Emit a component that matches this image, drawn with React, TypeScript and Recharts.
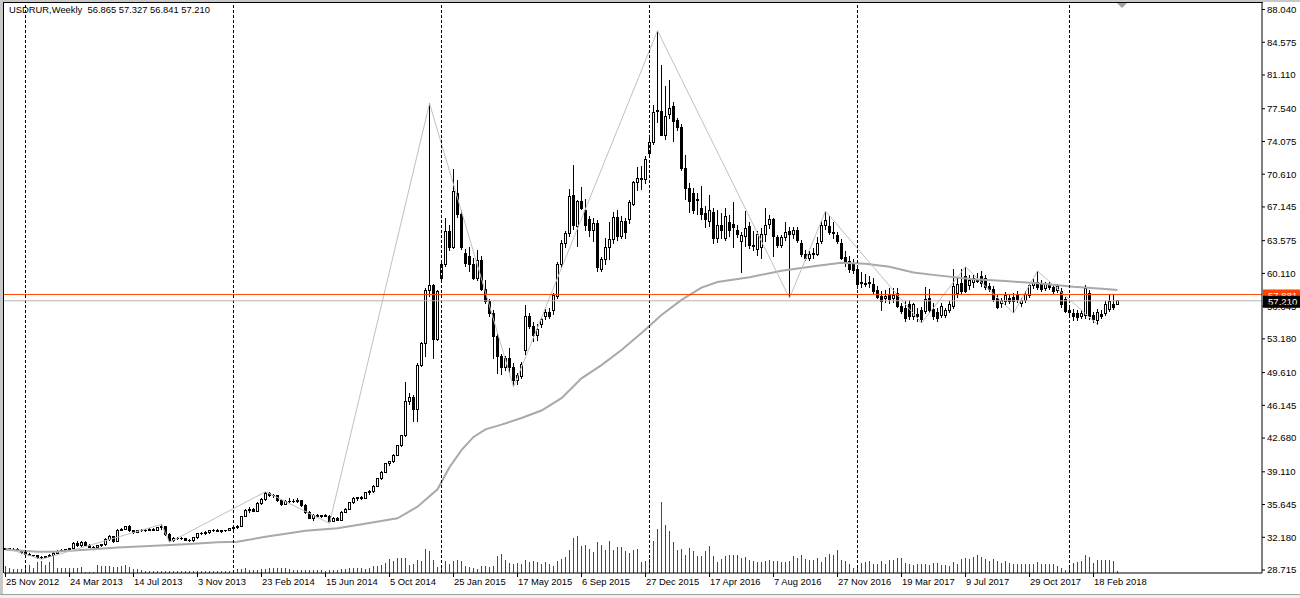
import React from 'react';
import { ComposedChart, Bar, Line, XAxis, YAxis, ReferenceLine } from 'recharts';

const FONT = '"Liberation Sans", Arial, sans-serif';

const opens = [
30.90,30.95,30.85,30.90,30.80,30.55,30.40,30.25,30.20,30.00,
30.05,30.15,30.30,30.50,30.70,30.80,30.85,30.95,31.55,31.30,
31.60,31.35,31.15,31.10,31.30,31.40,31.90,32.25,31.75,32.95,
33.05,33.30,32.85,32.70,32.85,32.90,32.95,33.00,32.95,33.20,
33.30,32.50,31.85,32.00,32.10,32.00,31.85,31.80,32.15,32.55,
32.60,32.65,32.85,32.95,32.75,32.85,32.90,33.10,33.20,33.35,
34.35,35.05,35.15,34.95,35.75,36.15,36.85,36.60,36.55,36.10,
35.70,35.95,36.00,35.95,36.05,35.55,34.85,34.20,34.45,34.40,
34.45,34.40,33.85,34.20,34.00,34.85,35.15,35.85,36.25,36.35,
36.30,36.90,37.00,37.60,38.35,39.05,39.95,40.15,40.85,41.85,
42.95,46.50,47.00,45.70,50.40,52.70,58.35,58.80,53.10,59.60,
61.00,64.50,62.90,68.60,66.30,62.20,61.90,61.00,59.60,61.50,
58.40,57.10,55.90,53.40,51.30,50.10,51.10,50.20,48.80,49.20,
52.00,55.50,54.50,53.50,54.70,55.60,56.00,56.20,57.70,61.00,
63.30,64.30,68.40,65.10,67.70,66.80,65.80,64.70,65.40,60.50,
61.60,62.90,63.70,66.00,64.00,65.60,65.80,67.40,69.70,70.20,
70.00,72.80,74.00,77.30,77.20,74.70,76.90,77.80,76.30,75.50,
71.20,69.10,68.60,67.80,67.00,66.50,65.60,66.60,63.80,65.20,
63.80,65.50,65.30,64.70,63.50,64.00,65.05,63.10,62.60,62.80,
64.20,65.30,65.80,63.90,63.10,63.90,64.50,64.20,64.60,63.30,
62.10,61.70,62.10,62.10,63.50,65.20,65.10,64.40,64.10,63.30,
61.80,61.40,61.20,60.50,59.10,59.00,59.00,58.90,58.30,57.70,
57.50,57.90,57.40,58.00,56.60,56.40,56.80,55.50,55.80,56.20,
56.06,57.50,56.30,56.00,55.70,55.70,56.20,56.60,58.00,59.00,
59.80,58.80,59.10,59.50,59.80,59.60,58.70,58.40,57.50,56.90,
57.10,57.50,57.60,57.90,56.90,57.20,57.80,58.80,59.10,58.90,
58.50,58.90,58.60,58.30,58.20,57.30,56.20,55.90,55.90,55.50,
55.70,58.00,55.70,55.10,55.80,55.90,56.30,56.80,56.865,
];

const highs = [
31.05,31.05,31.00,31.00,30.85,30.65,30.50,30.35,30.30,30.15,
30.25,30.40,30.60,30.80,30.90,30.95,31.05,31.70,31.80,31.75,
31.80,31.45,31.25,31.40,31.50,32.10,32.40,32.35,33.10,33.20,
33.40,33.45,32.95,32.95,33.05,33.10,33.15,33.20,33.30,33.55,
33.40,32.60,32.20,32.25,32.20,32.15,31.95,32.25,32.65,32.75,
32.80,32.95,33.05,33.05,32.95,33.00,33.20,33.30,33.45,34.45,
35.15,35.35,35.25,35.90,36.30,37.00,36.95,36.80,36.65,36.20,
36.10,36.30,36.25,36.30,36.15,35.65,35.00,34.60,34.65,34.55,
34.60,34.50,34.30,34.35,34.95,35.30,35.95,36.40,36.45,36.55,
37.00,37.20,37.70,38.45,39.15,40.05,40.30,40.95,41.95,43.05,
48.65,47.40,47.20,50.60,52.90,58.60,78.10,59.00,58.40,61.30,
66.00,65.20,71.20,70.00,66.80,62.70,62.90,61.70,62.60,62.00,
59.40,57.40,56.20,53.70,51.60,51.40,52.20,50.60,49.60,50.70,
56.80,55.90,55.00,54.80,55.50,56.30,56.40,58.00,61.30,63.60,
64.60,69.00,71.60,67.90,69.30,68.00,66.20,66.00,65.80,61.80,
63.90,65.50,66.60,66.80,66.20,66.00,67.90,69.90,71.40,71.50,
72.50,74.40,77.90,85.80,82.20,79.90,80.60,78.20,76.60,75.90,
72.60,69.70,69.20,68.60,69.40,67.20,68.40,67.00,66.80,66.50,
67.00,66.30,67.70,65.20,64.50,66.70,65.60,64.60,64.60,64.90,
67.00,66.30,66.00,64.20,64.20,65.50,65.00,65.00,65.00,63.60,
62.60,62.50,62.80,64.00,65.70,66.70,66.20,65.50,64.50,63.70,
62.50,61.90,61.60,60.90,60.30,60.00,59.80,59.60,58.80,58.20,
58.40,58.60,58.60,58.60,57.00,57.20,57.30,57.00,56.50,56.60,
58.70,58.50,57.00,56.50,57.00,56.40,57.20,60.60,59.60,60.60,
60.80,59.90,59.90,60.20,60.40,59.90,59.10,58.80,57.80,57.50,
58.10,57.90,58.00,58.20,57.50,58.20,59.00,59.50,60.37,59.40,
59.20,59.20,59.00,59.00,58.60,57.60,56.50,56.30,56.20,56.20,
58.90,58.40,56.00,56.30,56.20,57.20,57.80,57.80,57.327,
];

const lows = [
30.80,30.80,30.75,30.70,30.45,30.30,30.15,30.05,29.90,29.85,
29.95,30.05,30.20,30.40,30.60,30.70,30.75,30.90,31.20,31.20,
31.25,31.05,31.00,31.00,31.20,31.30,31.80,31.60,31.65,32.80,
32.90,32.75,32.55,32.60,32.70,32.75,32.85,32.85,32.90,33.00,
32.30,31.65,31.70,31.85,31.90,31.75,31.68,31.70,32.05,32.40,
32.45,32.55,32.70,32.70,32.65,32.70,32.80,33.00,33.05,33.30,
34.30,34.80,34.85,34.90,35.60,36.05,36.45,36.30,35.95,35.50,
35.55,35.80,35.80,35.85,35.40,34.65,34.10,33.90,34.20,34.25,
34.30,33.66,33.75,33.90,33.95,34.75,35.05,35.75,36.05,36.15,
36.20,36.70,36.90,37.50,38.25,38.95,39.70,40.05,40.75,41.70,
42.80,46.20,44.40,44.40,50.20,51.30,57.60,51.10,53.00,59.40,
60.80,62.50,62.70,66.00,62.60,60.80,60.30,59.40,59.30,58.20,
56.90,55.50,51.00,49.50,49.35,49.80,49.60,48.10,48.30,48.90,
51.50,54.20,52.90,53.00,54.30,55.20,55.30,55.70,57.40,60.70,
62.80,64.00,64.70,62.90,66.80,64.60,64.00,63.40,60.30,60.30,
61.00,61.50,63.20,63.50,63.70,63.80,65.30,67.20,68.80,68.90,
69.60,72.50,73.70,76.00,74.60,74.20,76.50,74.05,75.20,70.90,
67.90,66.50,66.40,66.30,65.80,64.90,65.00,63.20,63.30,63.80,
63.50,64.00,62.80,63.90,60.20,62.90,62.70,62.50,62.00,61.60,
63.40,64.80,61.80,62.80,62.80,63.50,57.50,63.80,63.30,61.80,
61.40,61.40,61.60,61.90,63.20,64.70,64.20,63.80,63.20,61.50,
60.80,60.20,60.00,58.50,58.60,58.70,58.60,57.90,57.40,56.10,
57.00,56.90,57.00,56.40,55.80,55.00,55.20,55.20,55.00,54.85,
55.80,55.90,55.20,55.00,55.40,55.40,55.90,56.30,57.50,57.80,
58.00,58.30,58.60,59.10,58.70,58.30,58.10,57.10,56.30,56.50,
56.80,56.90,55.90,57.00,56.60,57.00,57.50,58.50,58.40,58.10,
58.20,58.30,57.90,58.00,56.50,55.90,55.50,55.10,55.10,55.30,
55.30,55.20,54.90,54.70,55.30,55.60,56.00,56.20,56.841,
];

const closes = [
30.95,30.85,30.90,30.80,30.55,30.40,30.25,30.20,30.00,30.05,
30.15,30.30,30.50,30.70,30.80,30.85,30.95,31.55,31.30,31.60,
31.35,31.15,31.10,31.30,31.40,31.90,32.25,31.75,32.95,33.05,
33.30,32.85,32.70,32.85,32.90,32.95,33.00,32.95,33.20,33.30,
32.50,31.85,32.00,32.10,32.00,31.85,31.80,32.15,32.55,32.60,
32.65,32.85,32.95,32.75,32.85,32.90,33.10,33.20,33.35,34.35,
35.05,35.15,34.95,35.75,36.15,36.85,36.60,36.55,36.10,35.70,
35.95,36.00,35.95,36.05,35.55,34.85,34.20,34.45,34.40,34.45,
34.40,33.85,34.20,34.00,34.85,35.15,35.85,36.25,36.35,36.30,
36.90,37.00,37.60,38.35,39.05,39.95,40.15,40.85,41.85,42.95,
46.50,47.00,45.70,50.40,52.70,58.35,58.80,53.10,58.20,61.00,
64.50,62.90,68.80,66.30,62.80,61.20,61.00,59.60,61.50,58.40,
57.10,55.90,53.40,51.30,50.10,51.10,50.20,48.80,49.30,50.50,
55.50,54.50,53.50,54.20,55.20,56.00,55.50,57.80,61.00,63.30,
64.30,68.20,65.20,67.70,67.00,65.20,64.70,65.40,60.70,61.60,
62.90,63.70,66.00,64.00,65.60,64.40,67.60,69.70,70.20,70.10,
72.20,74.00,77.10,77.20,74.70,76.70,77.60,76.20,75.50,71.20,
69.10,67.70,66.80,67.90,66.30,65.80,66.80,63.80,65.20,64.70,
66.10,64.70,65.00,64.20,64.10,64.90,63.10,63.00,64.20,64.20,
65.20,65.80,64.00,63.10,63.90,64.40,64.20,64.60,63.60,62.10,
61.70,62.10,62.20,63.30,65.20,65.70,64.40,64.30,63.50,61.70,
61.30,60.50,60.40,58.90,59.00,58.95,59.15,58.20,57.60,57.10,
57.70,57.30,57.80,56.60,56.10,55.30,55.50,56.80,55.50,55.20,
57.30,56.20,55.50,55.30,56.60,56.20,56.80,58.70,58.90,58.20,
58.20,59.40,59.60,59.30,59.00,58.60,58.40,57.30,56.50,57.20,
57.80,57.10,57.10,57.30,57.20,57.90,58.80,59.10,58.60,58.40,
58.90,58.60,58.20,58.70,56.80,56.10,56.00,55.50,55.40,55.90,
58.50,55.50,55.20,56.00,55.60,56.80,57.10,56.50,57.210,
];

// tick volume (thousands of ticks, relative)
const volumes = [
6.7,5.3,3.7,3.7,4.3,6.3,8,5.3,11.3,12,
8,11.3,18,5.3,5.3,4.7,5.3,5.3,5.3,6.3,
1.3,1.3,0.7,8,7,7,7,5.7,6.3,7,
7.7,6.3,3.7,3.7,3,2.3,2,2,2.3,2,
2,2.3,2,2,2.3,2,2,2.3,2,2,
2.3,2,2,2.3,2,2,2.3,1.3,4,4.3,
5,3.3,2.7,3.3,4,4,5,5,5,5,
5,4,3.3,3.3,3.3,3.3,2.7,2.7,2.7,2.7,
1.7,2.7,3.3,2.7,4,4,5,5,5,5,
4.3,5,6.7,6.7,8.3,10,14,11.7,15,15,
15,7.7,9.3,13.3,12.3,24.3,21.7,13.3,5.7,6.7,
11.7,9.3,11.7,13.3,12.3,7.3,6,5,4.3,6.7,
6.7,5.7,7.3,16.7,19.3,12.7,10,9.3,10.3,9.3,
13.3,10.7,12.3,10.7,9.3,10.7,9.3,6.7,12.3,14,
15.7,23.3,35,37.3,27.3,28.3,24,20.7,31,28.3,
22.7,32.3,23.3,26,26,21.7,20,23.3,24,10.7,
12.3,14,32.3,44,71,48.3,41.7,30.7,23.3,24.3,
18.3,25,21.7,17.3,16.7,21.7,27.3,16.7,10.7,14.3,
17.3,18.3,17.7,18.3,15,15.7,13.3,11.7,10.7,10.7,
11.7,13.3,11.7,11.7,10.7,11,11.7,16.7,15,17.7,
14.3,13.3,12.7,15.3,11,16,18.7,17.7,22.7,12.7,
12,8.7,5.3,6.7,10,11,12,8.7,8.7,11.7,
8.7,12.7,12.7,15,15,10.3,9.3,8.3,8.7,8.7,
8.7,7.7,10,10,7.7,7.7,6.7,11,8.7,14.3,
15.3,13.7,16,17.7,16,14.3,11.7,14.3,11.7,10,
11.7,10.3,9.3,9.3,9.3,9.3,9.3,8.7,11,9.3,
9.3,9.3,9.3,6.7,5.3,3.3,6.7,10,11,12,
18.3,16,10,13.3,12.7,12.7,13.3,11.7,1.7,
];

// moving average readings (bar index -> value)
const maIndex = [0, 8, 12, 20, 28, 36, 45, 53, 58, 65, 75, 83, 88, 98, 103, 108, 111, 114, 117, 120, 124, 129, 134, 139, 144, 149, 154, 159, 164, 169, 174, 178, 186, 194, 203, 209, 215, 221, 227, 233, 242, 250, 258, 267, 275, 278];
const maValues = [30.85, 30.65, 30.65, 30.85, 31.1, 31.25, 31.45, 31.65, 31.7, 32.24, 32.87, 33.13, 33.48, 34.19, 35.42, 37.26, 39.6, 41.4, 42.8, 43.6, 44.1, 44.8, 45.6, 46.9, 49.0, 50.4, 52.0, 53.8, 55.7, 57.3, 58.6, 59.2, 59.7, 60.4, 60.93, 61.24, 61.14, 60.82, 60.2, 59.9, 59.5, 59.3, 59.06, 58.7, 58.46, 58.35];

// zigzag pivots (bar index -> price)
const zzIndex = [0, 9, 39, 41, 65, 81, 106, 127, 163, 196, 205, 229, 240, 252, 258, 273];
const zzValues = [31.05, 29.85, 33.55, 31.65, 37.0, 33.66, 78.1, 48.1, 85.8, 57.5, 66.7, 54.85, 60.8, 55.9, 60.37, 54.7];

const dateIdx = [0, 16, 32, 48, 64, 80, 96, 112, 128, 144, 160, 176, 192, 208, 224, 240, 256, 272];
const dateLabels = ['25 Nov 2012', '24 Mar 2013', '14 Jul 2013', '3 Nov 2013', '23 Feb 2014', '15 Jun 2014', '5 Oct 2014', '25 Jan 2015', '17 May 2015', '6 Sep 2015', '27 Dec 2015', '17 Apr 2016', '7 Aug 2016', '27 Nov 2016', '19 Mar 2017', '9 Jul 2017', '29 Oct 2017', '18 Feb 2018'];

const yearStartIdx = [5, 57, 109, 161, 213, 266];

const priceTicks = [88.040, 84.575, 81.110, 77.540, 74.075, 70.610, 67.145, 63.575, 60.110, 56.645, 53.180, 49.610, 46.145, 42.680, 39.110, 35.645, 32.180, 28.715];

const hLinePrice = 57.881;
const bidPrice = 57.210;

const data = opens.map((o, i) => {
  const mi = maIndex.indexOf(i);
  const zi = zzIndex.indexOf(i);
  return {
    i,
    o,
    h: highs[i],
    l: lows[i],
    c: closes[i],
    range: [lows[i], highs[i]],
    vol: volumes[i],
    ma: mi >= 0 ? maValues[mi] : null,
    zz: zi >= 0 ? zzValues[zi] : null,
  };
});

const snap = (v: number) => Math.round(v - 0.5) + 0.5;
// bar centres come out 0..0.5px left of the true centre; snap robustly to a pixel centre
const snapBar = (v: number) => Math.round(v - 0.25) + 0.5;

function CandleShape(props: any) {
  const { x, y, width, height } = props;
  const p = props.payload || props;
  if (x == null || y == null || p == null) return null;
  const cx = snapBar(x + width / 2);
  const yTop = Math.min(y, y + height);
  const hAbs = Math.abs(height);
  const { o, h, l, c } = p;
  const span = h - l;
  const py = (v: number) => (span > 0 ? yTop + ((h - v) / span) * hAbs : yTop);
  const bodyTop = snap(py(Math.max(o, c)));
  const bodyBot = snap(py(Math.min(o, c)));
  const bull = c >= o;
  return (
    <g shapeRendering="crispEdges">
      <line x1={cx} x2={cx} y1={yTop} y2={yTop + hAbs} stroke="#000" strokeWidth={1} />
      {bodyBot - bodyTop < 1 ? (
        <line x1={cx - 1.5} x2={cx + 1.5} y1={bodyTop} y2={bodyTop} stroke="#000" strokeWidth={1} />
      ) : (
        <rect x={cx - 1} y={bodyTop} width={2} height={bodyBot - bodyTop} fill={bull ? '#fff' : '#000'} stroke="#000" strokeWidth={1} />
      )}
    </g>
  );
}

function VolShape(props: any) {
  const { x, y, width, height } = props;
  if (x == null || y == null) return null;
  const cx = snapBar(x + width / 2);
  const top = Math.min(y, y + height);
  const bot = Math.max(y, y + height);
  return <line x1={cx} x2={cx} y1={top} y2={bot} stroke="#007a00" strokeWidth={1} shapeRendering="crispEdges" />;
}

function DateTick(props: any) {
  const { x, y, payload } = props;
  const px = snap(x);
  const k = dateIdx.indexOf(payload.value);
  return (
    <g>
      <line x1={px} x2={px} y1={y} y2={y + 4} stroke="#000" strokeWidth={1} shapeRendering="crispEdges" />
      <text x={px + 0.5} y={y + 12} fontSize={9.4} fontFamily={FONT} fill="#000" textAnchor="start">
        {k >= 0 ? dateLabels[k] : ''}
      </text>
    </g>
  );
}

function PriceTag(props: any) {
  const { viewBox, text, bg } = props;
  if (!viewBox) return null;
  const rx = viewBox.x + viewBox.width;
  const ly = viewBox.y;
  return (
    <g>
      <rect x={rx + 1} y={ly - 5} width={37} height={12} fill={bg} />
      <text x={rx + 6} y={ly + 4.5} fontSize={9.6} fontFamily={FONT} fill="#fff">{text}</text>
    </g>
  );
}

export default function App() {
  return (
    <div style={{ position: 'absolute', left: 0, top: 0, width: 1300, height: 598, background: '#fff', overflow: 'hidden', fontFamily: FONT }}>
      <ComposedChart width={1300} height={598} data={data} margin={{ top: 3, right: 0, bottom: 0, left: 4 }}>
        <XAxis
          xAxisId="m"
          dataKey="i"
          type="number"
          domain={[-0.375, 314.125]}
          allowDataOverflow
          ticks={dateIdx}
          interval={0}
          height={25}
          tickSize={0}
          tickMargin={0}
          tickLine={false}
          axisLine={{ stroke: '#000' }}
          tick={<DateTick />}
        />
        <XAxis xAxisId="v" dataKey="i" type="number" domain={[-0.375, 314.125]} allowDataOverflow hide />
        <YAxis
          yAxisId="p"
          orientation="right"
          type="number"
          domain={[28.4, 88.728]}
          allowDataOverflow
          ticks={priceTicks}
          interval={0}
          width={38}
          tickSize={3}
          tickMargin={2}
          tickLine={{ stroke: '#000' }}
          axisLine={{ stroke: '#000' }}
          tickFormatter={(v: number) => v.toFixed(3)}
          tick={{ fontSize: 9.6, fill: '#000', fontFamily: FONT }}
        />
        <YAxis yAxisId="vy" type="number" domain={[0, 570]} allowDataOverflow hide />

        <Bar xAxisId="v" yAxisId="vy" dataKey="vol" barSize={3} shape={<VolShape />} isAnimationActive={false} />
        <Line xAxisId="m" yAxisId="p" dataKey="ma" type="linear" stroke="#a9a9a9" strokeWidth={2} dot={false} connectNulls isAnimationActive={false} />
        <Line xAxisId="m" yAxisId="p" dataKey="zz" type="linear" stroke="#c0c0c0" strokeWidth={1} dot={false} connectNulls isAnimationActive={false} />
        <Bar xAxisId="m" yAxisId="p" dataKey="range" barSize={3} shape={<CandleShape />} isAnimationActive={false} />

        {yearStartIdx.map((v) => (
          <ReferenceLine key={v} xAxisId="m" yAxisId="p" x={v} stroke="#000" strokeDasharray="3 2" strokeWidth={1} />
        ))}
        <ReferenceLine xAxisId="m" yAxisId="p" y={bidPrice} stroke="#b4b4b4" strokeWidth={1} />
        <ReferenceLine xAxisId="m" yAxisId="p" y={hLinePrice} stroke="#ff4500" strokeWidth={1} label={<PriceTag text="57.881" bg="#ff4500" />} />
        <ReferenceLine xAxisId="m" yAxisId="p" y={bidPrice} stroke="none" label={<PriceTag text="57.210" bg="#000" />} />
      </ComposedChart>

      {/* window frame */}
      <div style={{ position: 'absolute', left: 0, top: 0, width: 3, height: 598, background: '#c8c8c8' }} />
      <div style={{ position: 'absolute', left: 3, top: 2, width: 1, height: 571, background: '#000' }} />
      <div style={{ position: 'absolute', left: 0, top: 0, width: 1300, height: 2, background: '#c8c8c8' }} />
      <div style={{ position: 'absolute', left: 3, top: 2, width: 1260, height: 1, background: '#000' }} />
      <div style={{ position: 'absolute', left: 0, top: 594, width: 1300, height: 1, background: '#a0a0a0' }} />
      <div style={{ position: 'absolute', left: 0, top: 595, width: 1300, height: 3, background: '#f0f0f0' }} />
      {/* chart shift marker */}
      <div style={{ position: 'absolute', left: 1117, top: 3, width: 0, height: 0, borderLeft: '5px solid transparent', borderRight: '5px solid transparent', borderTop: '5px solid #a0a0a0' }} />
      {/* header */}
      <div style={{ position: 'absolute', left: 9, top: 4, fontSize: 9.4, lineHeight: '12px', color: '#000', whiteSpace: 'pre' }}>
        {'USDRUR,Weekly  56.865 57.327 56.841 57.210'}
      </div>
    </div>
  );
}
